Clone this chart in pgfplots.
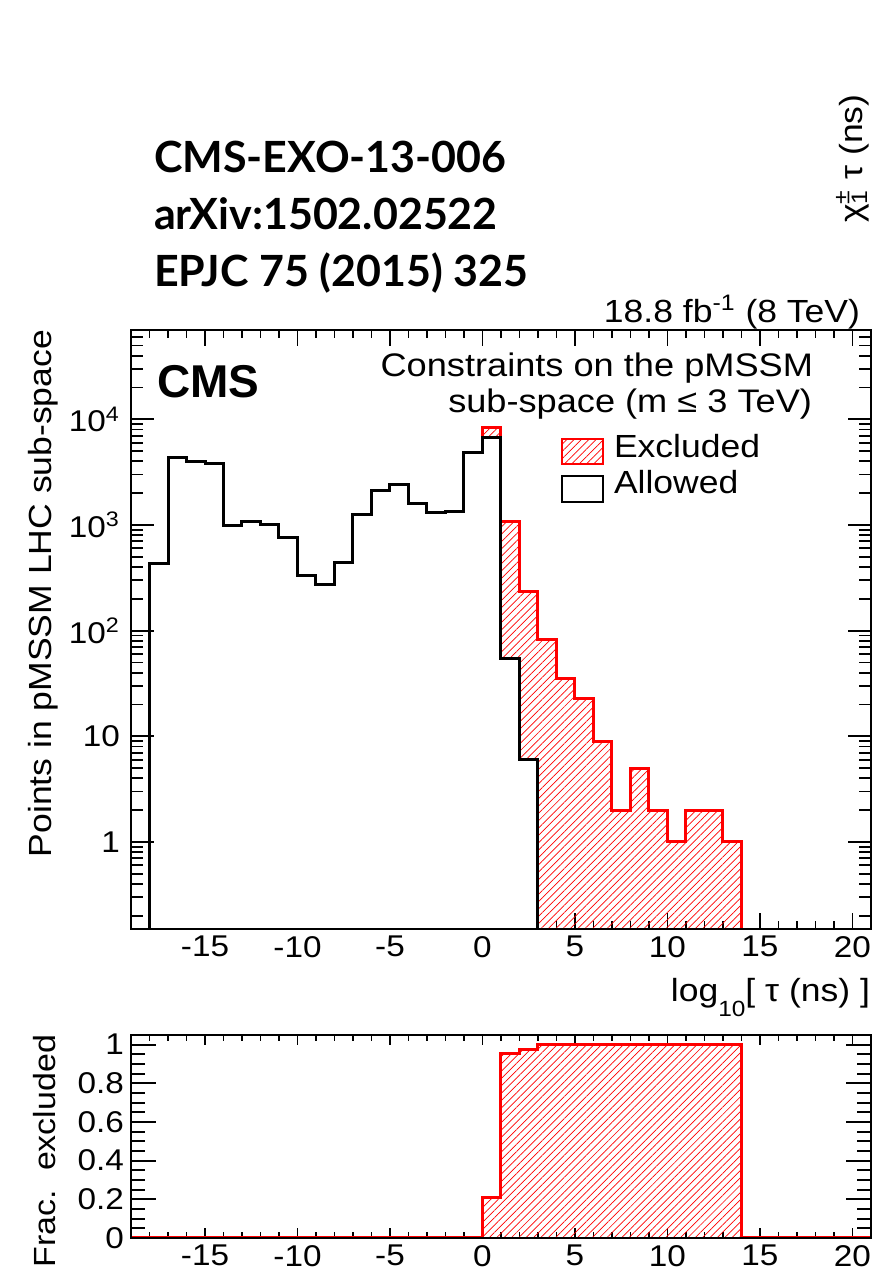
\documentclass[border=0pt]{standalone}
\usepackage{fontspec}
\setmainfont{Liberation Sans}[FakeStretch=1.11]
\newfontfamily\cmsfont{Liberation Sans}
\newfontfamily\hdrfont{Lato}
\usepackage{pgfplots}
\pgfplotsset{compat=1.18}
\usetikzlibrary{patterns,patterns.meta}

\tikzset{
  hatch/.style={draw=red, line width=1.5pt,
    pattern={Lines[angle=45,distance=2.6pt,line width=0.35pt]}, pattern color=red},
}
\pgfplotsset{
  base/.style={
    scale only axis, width=370pt,
    xmin=-19, xmax=21,
    tick pos=both, tick align=inside,
    axis line style={line width=1pt},
    tick style={black, line width=0.9pt},
    tick label style={font=\fontsize{15}{15}\selectfont},
  },
}

\begin{document}
\begin{tikzpicture}
\path[use as bounding box] (0pt,0pt) rectangle (436pt,635.5pt);

% ---------------- main panel: x ticks + data
\begin{axis}[base,
  at={(65.5pt,171pt)}, anchor=south west, height=299.5pt,
  ymode=log, ymin=0.15, ymax=7e4,
  xtick={-15,-10,...,20}, xticklabels={-15,-10,-5,0,5,10,15,20},
  minor xtick={-19,...,21},
  ytick=\empty,
  major tick length=8pt, minor tick length=4pt,
]
\addplot[hatch, const plot] coordinates {
(0,0.001) (0,8400) (1,1080) (2,234) (3,82) (4,35) (5,23) (6,9) (7,2) (8,5)
(9,2) (10,1) (11,2) (12,2) (13,1) (14,0.001)};
\addplot[const plot, draw=black, line width=1.5pt, fill=white] coordinates {
(-18,0.001) (-18,430) (-17,4310) (-16,3950) (-15,3800) (-14,983) (-13,1072)
(-12,1005) (-11,762) (-10,330) (-9,271) (-8,445) (-7,1250) (-6,2125) (-5,2405)
(-4,1612) (-3,1305) (-2,1334) (-1,4800) (0,6660) (1,55) (2,6) (3,0.001)};
\end{axis}

% ---------------- main panel: y ticks
\begin{axis}[base,
  at={(65.5pt,171pt)}, anchor=south west, height=299.5pt,
  ymode=log, ymin=0.15, ymax=7e4,
  xtick=\empty,
  ytick={1,10,100,1000,10000},
  yticklabels={1,10,10\textsuperscript{2},10\textsuperscript{3},10\textsuperscript{4}},
  yticklabel style={xshift=-2pt},
  minor ytick={0.2,0.3,0.4,0.5,0.6,0.7,0.8,0.9,2,3,4,5,6,7,8,9,20,30,40,50,60,70,80,90,
    200,300,400,500,600,700,800,900,2000,3000,4000,5000,6000,7000,8000,9000,
    20000,30000,40000,50000,60000,70000},
  major tick length=11.5pt, minor tick length=6pt,
]
\end{axis}

% ---------------- lower panel: x ticks + data
\begin{axis}[base,
  at={(65.5pt,16.5pt)}, anchor=south west, height=101.5pt,
  ymin=0, ymax=1.05,
  xtick={-15,-10,...,20}, xticklabels={-15,-10,-5,0,5,10,15,20},
  minor xtick={-19,...,21},
  ytick=\empty,
  major tick length=5pt, minor tick length=3pt,
]
\addplot[hatch, const plot] coordinates {
(-19,0) (0,0.212) (1,0.952) (2,0.974) (3,1) (14,0) (21,0)};
\end{axis}

% ---------------- lower panel: y ticks
\begin{axis}[base,
  at={(65.5pt,16.5pt)}, anchor=south west, height=101.5pt,
  ymin=0, ymax=1.05,
  xtick=\empty,
  ytick={0,0.2,0.4,0.6,0.8,1}, yticklabels={0,0.2,0.4,0.6,0.8,1},
  minor ytick={0.05,0.1,...,1.05},
  major tick length=12.5pt, minor tick length=7pt,
]
\end{axis}

% ---------------- texts
\begin{scope}[every node/.style={inner sep=0pt, outer sep=0pt}]
\node[anchor=base west, font=\hdrfont\bfseries\fontsize{21.5}{21.5}\selectfont] at (77pt,549pt) {CMS-EXO-13-006};
\node[anchor=base west, font=\hdrfont\bfseries\fontsize{21.5}{21.5}\selectfont] at (77pt,520.5pt) {arXiv:1502.02522};
\node[anchor=base west, font=\hdrfont\bfseries\fontsize{21.5}{21.5}\selectfont] at (77pt,492pt) {EPJC 75 (2015) 325};

\node[anchor=base east, font=\fontsize{16}{16}\selectfont] at (430pt,474pt) {18.8 fb\textsuperscript{-1} (8 TeV)};
\node[anchor=base west, font=\cmsfont\bfseries\fontsize{23}{23}\selectfont] at (78.5pt,436.5pt) {CMS};
\node[anchor=base east, font=\fontsize{16.3}{16.3}\selectfont] at (406.5pt,447pt) {Constraints on the pMSSM};
\node[anchor=base east, font=\fontsize{16.3}{16.3}\selectfont] at (406pt,429pt) {sub-space (m ≤ 3 TeV)};

\draw[hatch, line width=1pt] (281pt,403.5pt) rectangle (301.5pt,416pt);
\draw[black, line width=1pt, fill=white] (281pt,384.6pt) rectangle (301.5pt,397.5pt);
\node[anchor=base west, font=\fontsize{16}{16}\selectfont] at (307pt,406.5pt) {Excluded};
\node[anchor=base west, font=\fontsize{16}{16}\selectfont] at (307pt,388.5pt) {Allowed};

\node[anchor=base east, font=\fontsize{16}{16}\selectfont] at (435pt,134.6pt) {log\raisebox{-0.45em}{\fontsize{11}{11}\selectfont 10}[ τ (ns) ]};
\node[rotate=90, anchor=base east, font=\fontsize{16}{16}\selectfont] at (26pt,470.5pt) {Points in pMSSM LHC sub-space};
\node[rotate=90, anchor=base east, font=\fontsize{15.3}{15.3}\selectfont] at (27.5pt,118pt) {Frac.\ \ excluded};
\node[rotate=90, anchor=base west, font=\fontsize{16}{16}\selectfont] at (431pt,524pt) {χ\rlap{\textsuperscript{±}}\textsubscript{1} τ (ns)};
\end{scope}
\end{tikzpicture}
\end{document}
